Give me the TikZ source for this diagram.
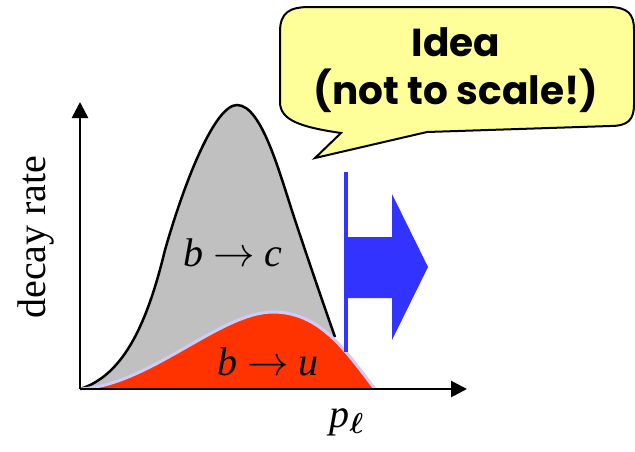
\documentclass[tikz,border=0pt]{standalone}
\usepackage{amsmath}
\usepackage{fontspec}
\setmainfont{Liberation Serif}
\newfontfamily\bubblefont{Poppins}
\usetikzlibrary{arrows.meta}
\definecolor{bctail}{RGB}{192,192,192}
\definecolor{bufill}{RGB}{255,51,0}
\definecolor{buedge}{RGB}{204,204,255}
\definecolor{cutblue}{RGB}{51,51,255}
\definecolor{bubbleyellow}{RGB}{255,255,153}
\tikzset{
  axis/.style={line width=1.3pt,-{Triangle[length=8pt,width=8pt]}},
  curvelabel/.style={font=\fontsize{20}{22}\selectfont},
  bubbletext/.style={font=\bubblefont\bfseries\fontsize{19.5}{24}\selectfont,align=center}
}
\newcommand{\bcpath}{(80,389) .. controls (125,375) and (148,320) .. (165,250)
  .. controls (185,180) and (215,105) .. (237,105) .. controls (262,105) and (280,175) .. (295,220)
  .. controls (310,265) and (322,300) .. (335,337)}
\newcommand{\bupath}{(80,389) .. controls (150,385) and (220,312) .. (273,312)
  .. controls (320,312) and (345,350) .. (375,389)}

\begin{document}
\begin{tikzpicture}[x=0.5pt,y=-0.5pt]
  \useasboundingbox (0,0) rectangle (635,451);
  % b -> c spectrum
  \fill[bctail] \bcpath -- (335,389) -- cycle;
  \draw[line width=1.25pt] \bcpath;
  % b -> u spectrum
  \fill[bufill] \bupath -- cycle;
  \draw[buedge,line width=1.5pt] \bupath;
  \node[curvelabel] (bc) at (233,253) {\textit{b} $\rightarrow$ \textit{c}};
  \node[curvelabel] (bu) at (268,362) {\textit{b} $\rightarrow$ \textit{u}};
  % axes
  \coordinate (origin) at (80,389);
  \coordinate (ytip) at (80,102);
  \coordinate (xtip) at (467,389);
  \draw[axis] (origin) -- (ytip);
  \draw[axis] (origin) -- (xtip);
  \node[curvelabel,rotate=90] (ylab) at (36,237) {decay rate};
  \node[curvelabel] (xlab) at (347,422) {\textit{p}$_{\boldsymbol{\ell}}$};
  % cut and arrow
  \fill[cutblue] (344,172) rectangle (348,352);
  \fill[cutblue] (348,237) -- (392,237) -- (392,194) -- (428,267) -- (392,340) -- (392,298) -- (348,298) -- cycle;
  % speech bubble
  \draw[fill=bubbleyellow,line width=1pt] (280,32) .. controls (280,12) and (290,7) .. (310,7) -- (608,7)
    .. controls (628,7) and (634,14) .. (634,30) -- (634,104) .. controls (634,120) and (628,126) .. (610,126)
    -- (427,132) -- (315,158) -- (341,133) .. controls (300,127) and (280,120) .. (280,102) -- cycle;
  \node[bubbletext] (idea) at (456,70) {Idea\\(not to scale!)};
\end{tikzpicture}
\end{document}
